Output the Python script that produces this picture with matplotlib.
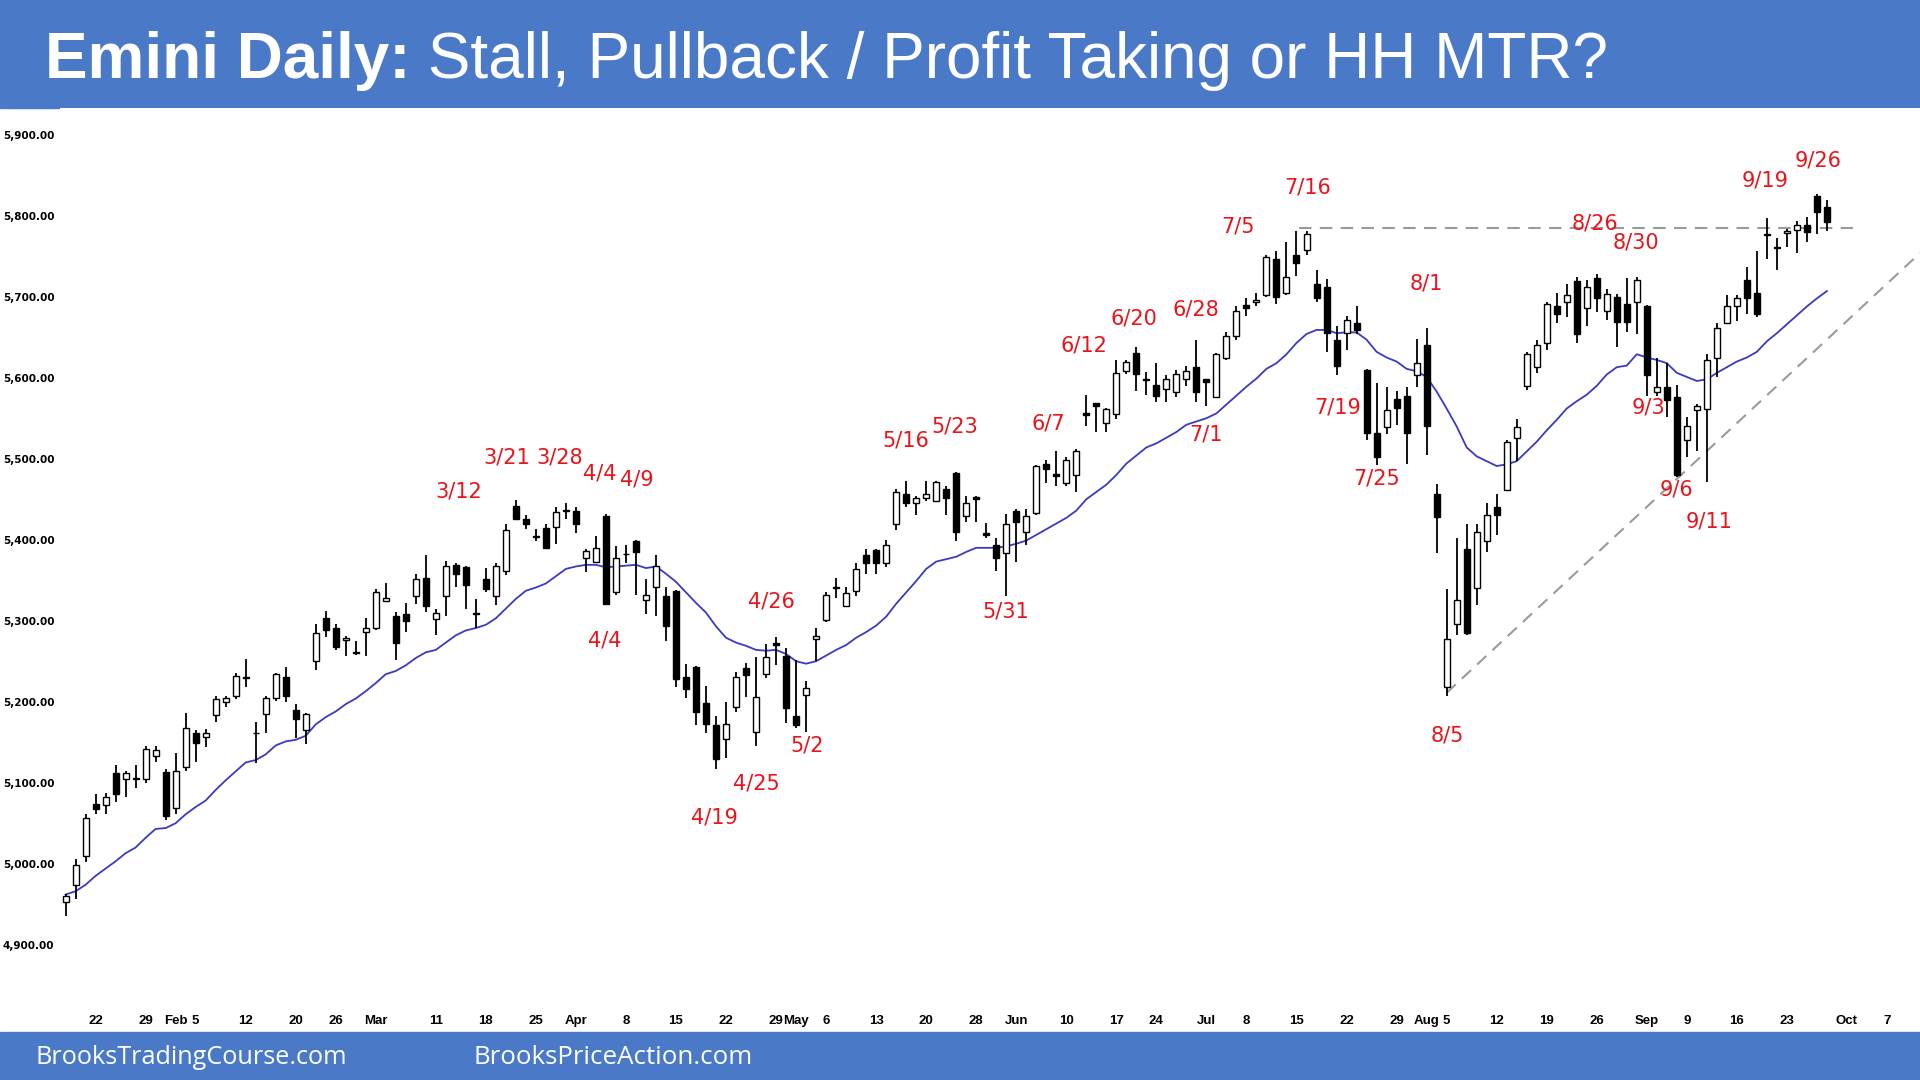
import matplotlib
matplotlib.use("Agg")
import matplotlib.pyplot as plt
import numpy as np
import pandas as pd

# trading days on the chart (exchange holidays dropped)
holidays = ["2024-02-19", "2024-03-29", "2024-05-27", "2024-06-19", "2024-07-04", "2024-09-02"]
days = pd.bdate_range("2024-01-17", "2024-10-11")
days = days[~days.isin(pd.to_datetime(holidays))]

opens = [4953, 4974, 5009,
         5074, 5073, 5112, 5105, 5106, 5105, 5133, 5113, 5069, 5120,
         5161, 5157, 5184, 5200, 5207, 5231, 5162, 5185, 5205, 5230,
         5190, 5165, 5250, 5303, 5291, 5276, 5262, 5286, 5291, 5324,
         5306, 5308, 5330, 5353, 5302, 5330, 5369, 5366, 5310, 5351,
         5330, 5362, 5442, 5426, 5405, 5414, 5416, 5437, 5436, 5378,
         5372, 5429, 5335, 5383, 5398, 5325, 5342, 5330, 5337, 5230,
         5243, 5198, 5171, 5154, 5193, 5242, 5163, 5234, 5272, 5257,
         5183, 5208, 5278, 5301, 5342, 5318, 5337, 5381, 5387, 5371,
         5419, 5457, 5445, 5452, 5448, 5463, 5482, 5429, 5453, 5408,
         5393, 5384, 5436, 5410, 5433, 5494, 5481, 5470, 5480, 5556,
         5569, 5544, 5555, 5608, 5631, 5599, 5591, 5586, 5583, 5599,
         5613, 5598, 5576, 5624, 5651, 5690, 5694, 5702, 5747, 5705,
         5751, 5758, 5716, 5712, 5647, 5655, 5668, 5609, 5532, 5539,
         5574, 5577, 5603, 5640, 5456, 5218, 5296, 5388, 5340, 5399,
         5441, 5462, 5525, 5590, 5613, 5643, 5688, 5693, 5719, 5686,
         5723, 5683, 5700, 5691, 5693, 5688, 5583, 5589, 5576, 5523,
         5560, 5562, 5624, 5668, 5688, 5721, 5705, 5778, 5761, 5779,
         5782, 5788, 5824, 5811]
highs = [4963, 5006, 5062,
         5086, 5087, 5122, 5115, 5122, 5145, 5145, 5117, 5137, 5186,
         5165, 5166, 5207, 5207, 5235, 5253, 5175, 5207, 5236, 5243,
         5197, 5186, 5296, 5312, 5296, 5281, 5275, 5303, 5339, 5346,
         5311, 5322, 5358, 5381, 5315, 5374, 5371, 5367, 5327, 5365,
         5371, 5420, 5449, 5431, 5413, 5420, 5441, 5445, 5441, 5388,
         5404, 5432, 5392, 5393, 5400, 5351, 5381, 5342, 5338, 5247,
         5244, 5219, 5183, 5200, 5237, 5248, 5255, 5271, 5280, 5266,
         5251, 5226, 5291, 5335, 5353, 5342, 5371, 5388, 5388, 5400,
         5463, 5473, 5454, 5473, 5473, 5466, 5484, 5454, 5454, 5421,
         5402, 5432, 5438, 5438, 5492, 5498, 5509, 5502, 5512, 5579,
         5569, 5563, 5622, 5622, 5638, 5607, 5618, 5603, 5610, 5615,
         5647, 5599, 5631, 5657, 5689, 5698, 5705, 5751, 5756, 5768,
         5781, 5781, 5733, 5722, 5664, 5676, 5689, 5611, 5594, 5589,
         5584, 5589, 5648, 5661, 5469, 5339, 5402, 5419, 5419, 5445,
         5457, 5523, 5549, 5632, 5647, 5693, 5705, 5716, 5724, 5721,
         5728, 5709, 5703, 5723, 5724, 5690, 5624, 5618, 5591, 5551,
         5567, 5629, 5668, 5702, 5702, 5737, 5756, 5797, 5773, 5784,
         5794, 5799, 5827, 5820]
lows = [4935, 4956, 5002,
        5062, 5062, 5076, 5083, 5094, 5100, 5126, 5054, 5062, 5115,
        5126, 5144, 5175, 5193, 5203, 5218, 5124, 5161, 5201, 5200,
        5155, 5148, 5239, 5280, 5264, 5256, 5258, 5257, 5289, 5323,
        5252, 5286, 5321, 5311, 5282, 5306, 5342, 5314, 5291, 5335,
        5320, 5357, 5425, 5413, 5399, 5388, 5395, 5426, 5408, 5360,
        5371, 5320, 5332, 5371, 5332, 5308, 5306, 5275, 5218, 5204,
        5171, 5161, 5117, 5130, 5187, 5206, 5145, 5229, 5245, 5174,
        5167, 5163, 5250, 5298, 5328, 5318, 5330, 5358, 5358, 5366,
        5412, 5441, 5431, 5448, 5448, 5431, 5398, 5422, 5422, 5402,
        5362, 5330, 5372, 5393, 5431, 5470, 5466, 5466, 5459, 5540,
        5533, 5533, 5549, 5604, 5584, 5579, 5570, 5570, 5576, 5590,
        5570, 5565, 5576, 5622, 5647, 5676, 5689, 5700, 5691, 5702,
        5726, 5751, 5693, 5632, 5603, 5634, 5654, 5523, 5492, 5530,
        5542, 5494, 5589, 5505, 5384, 5207, 5282, 5282, 5319, 5385,
        5406, 5460, 5497, 5585, 5606, 5634, 5667, 5675, 5643, 5664,
        5681, 5671, 5638, 5657, 5654, 5577, 5577, 5551, 5477, 5502,
        5509, 5471, 5601, 5666, 5670, 5679, 5675, 5747, 5733, 5761,
        5754, 5767, 5778, 5781]
closes = [4960, 4999, 5057,
          5067, 5083, 5086, 5112, 5104, 5142, 5140, 5059, 5115, 5167,
          5149, 5162, 5203, 5205, 5232, 5229, 5161, 5205, 5234, 5207,
          5179, 5185, 5285, 5289, 5268, 5279, 5260, 5291, 5335, 5328,
          5273, 5300, 5351, 5318, 5310, 5367, 5358, 5344, 5308, 5339,
          5367, 5412, 5426, 5419, 5403, 5390, 5434, 5436, 5419, 5386,
          5390, 5321, 5378, 5382, 5385, 5332, 5367, 5293, 5228, 5216,
          5187, 5173, 5129, 5172, 5231, 5233, 5206, 5255, 5270, 5192,
          5171, 5217, 5281, 5332, 5340, 5334, 5364, 5371, 5371, 5394,
          5459, 5445, 5452, 5457, 5471, 5452, 5410, 5445, 5450, 5406,
          5378, 5420, 5422, 5429, 5491, 5487, 5479, 5498, 5509, 5554,
          5565, 5562, 5606, 5620, 5604, 5597, 5577, 5598, 5604, 5608,
          5582, 5595, 5629, 5651, 5682, 5686, 5696, 5749, 5700, 5724,
          5742, 5777, 5698, 5655, 5615, 5671, 5659, 5532, 5502, 5560,
          5563, 5532, 5618, 5540, 5428, 5277, 5326, 5285, 5409, 5430,
          5430, 5521, 5539, 5629, 5640, 5691, 5679, 5702, 5654, 5712,
          5698, 5703, 5669, 5669, 5721, 5603, 5589, 5572, 5480, 5540,
          5565, 5622, 5662, 5689, 5698, 5698, 5679, 5776, 5760, 5781,
          5789, 5780, 5804, 5792]
# 20 bar moving average
ema20 = [4962, 4966, 4974,
         4985, 4994, 5003, 5013, 5020, 5032, 5043, 5044, 5050, 5061,
         5070, 5078, 5091, 5103, 5114, 5125, 5128, 5135, 5146, 5151,
         5153, 5158, 5172, 5181, 5188, 5197, 5204, 5213, 5223, 5234,
         5238, 5245, 5254, 5261, 5264, 5273, 5282, 5288, 5291, 5295,
         5303, 5315, 5327, 5337, 5341, 5346, 5355, 5364, 5367, 5369,
         5369, 5366, 5367, 5368, 5369, 5365, 5367, 5358, 5348, 5335,
         5322, 5310, 5293, 5279, 5273, 5269, 5264, 5263, 5264, 5259,
         5250, 5247, 5250, 5257, 5264, 5270, 5279, 5286, 5294, 5305,
         5321, 5335, 5349, 5364, 5373, 5376, 5379, 5385, 5390, 5390,
         5390, 5392, 5395, 5399, 5406, 5413, 5420, 5427, 5436, 5450,
         5459, 5468, 5480, 5494, 5504, 5514, 5519, 5526, 5533, 5542,
         5546, 5550, 5556, 5567, 5578, 5589, 5599, 5611, 5618, 5629,
         5643, 5654, 5659, 5659, 5655, 5656, 5656, 5647, 5632, 5625,
         5620, 5611, 5608, 5601, 5583, 5562, 5540, 5514, 5503, 5497,
         5491, 5493, 5497, 5509, 5521, 5535, 5548, 5562, 5571, 5579,
         5590, 5604, 5613, 5615, 5629, 5625, 5622, 5618, 5606, 5601,
         5596, 5598, 5606, 5613, 5620, 5625, 5632, 5645, 5655, 5666,
         5677, 5688, 5698, 5707]

tick_dates = ["2024-01-22", "2024-01-29", "2024-02-01", "2024-02-05", "2024-02-12",
              "2024-02-20", "2024-02-26", "2024-03-01", "2024-03-11", "2024-03-18",
              "2024-03-25", "2024-04-01", "2024-04-08", "2024-04-15", "2024-04-22",
              "2024-04-29", "2024-05-01", "2024-05-06", "2024-05-13", "2024-05-20",
              "2024-05-28", "2024-06-03", "2024-06-10", "2024-06-17", "2024-06-24",
              "2024-07-01", "2024-07-08", "2024-07-15", "2024-07-22", "2024-07-29",
              "2024-08-01", "2024-08-05", "2024-08-12", "2024-08-19", "2024-08-26",
              "2024-09-03", "2024-09-09", "2024-09-16", "2024-09-23", "2024-10-01",
              "2024-10-07"]
tick_text = ["22", "29", "Feb", "5", "12", "20", "26", "Mar", "11", "18", "25", "Apr",
             "8", "15", "22", "29", "May", "6", "13", "20", "28", "Jun", "10", "17",
             "24", "Jul", "8", "15", "22", "29", "Aug", "5", "12", "19", "26", "Sep",
             "9", "16", "23", "Oct", "7"]

# swing labels: text, bar position, price
label_text = ["3/12", "3/21", "3/28", "4/4", "4/9", "4/4", "4/26", "4/19", "4/25", "5/2",
              "5/16", "5/23", "5/31", "6/7", "6/12", "6/20", "6/28", "7/1", "7/5", "7/16",
              "7/19", "7/25", "8/1", "8/5", "8/26", "8/30", "9/3", "9/6", "9/11", "9/19",
              "9/26"]
label_x = [39.3, 44.1, 49.4, 53.4, 57.1, 53.9, 70.5, 64.8, 69.0, 74.1,
           84.0, 88.9, 93.9, 98.2, 101.8, 106.8, 112.9, 114.0, 117.2, 124.1,
           127.1, 131.0, 136.0, 138.1, 152.8, 156.9, 158.2, 161.0, 164.2, 169.8,
           175.1]
label_y = [5459, 5501, 5501, 5482, 5474, 5276, 5324, 5057, 5099, 5146,
           5522, 5540, 5312, 5543, 5640, 5673, 5684, 5530, 5787, 5835,
           5563, 5475, 5716, 5158, 5791, 5767, 5563, 5462, 5423, 5843,
           5868]

# analyst lines
level_price = 5785
level_from, level_to = 123.3, 178.8
trend_dates = ["2024-08-05", "2024-09-06"]
trend_prices = [5211, 5475]

band = "#4A7AC7"
red = "#E8141A"

fig = plt.figure(figsize=(19.2, 10.8), dpi=100)
fig.add_artist(plt.Rectangle((0, 1 - 108 / 1080), 1, 108 / 1080,
                             transform=fig.transFigure, color=band, zorder=0))
fig.add_artist(plt.Rectangle((0, 0), 1, 48 / 1080,
                             transform=fig.transFigure, color=band, zorder=0))

ax = fig.add_axes([60 / 1920, 1 - 1008 / 1080, 1 - 60 / 1920, 900 / 1080])
xlim = (-0.55, 185.3)
ax.set_xlim(*xlim)
ax.set_ylim(4821.9, 5933)
for s in ax.spines.values():
    s.set_visible(False)

x = np.arange(len(opens))
o, h, l, c = map(np.array, (opens, highs, lows, closes))
up = c >= o
ax.plot(x, ema20, color="#3A3AC2", lw=1.3, zorder=1.5)
ax.vlines(x, l, h, color="black", lw=1.3, zorder=2)
ax.bar(x, np.abs(c - o), bottom=np.minimum(o, c), width=0.6,
       color=np.where(up, "white", "black"), edgecolor="black", linewidth=1.0, zorder=3)

# dashed lines
ax.plot([level_from, level_to], [level_price, level_price], ls=(0, (6, 4)),
        color="#9A9A9A", lw=1.5, zorder=1.8)
tx = [days.get_loc(pd.Timestamp(d)) for d in trend_dates]
slope = (trend_prices[1] - trend_prices[0]) / (tx[1] - tx[0])
ax.plot([tx[0], xlim[1]], [trend_prices[0], trend_prices[0] + slope * (xlim[1] - tx[0])],
        ls=(0, (6, 4)), color="#9A9A9A", lw=1.5, zorder=1.8)

for s, lx, ly in zip(label_text, label_x, label_y):
    ax.text(lx, ly, s, color=red, fontsize=15, ha="center", va="center",
            family="DejaVu Sans", zorder=5)

yt = list(range(4900, 6000, 100))
ax.set_yticks(yt)
ax.set_yticklabels([f"{v:,.2f}" for v in yt], fontsize=7.5, fontweight="bold",
                   family="DejaVu Sans")
ax.set_xticks([days.get_loc(pd.Timestamp(d)) for d in tick_dates])
ax.set_xticklabels(tick_text, fontsize=9.5, fontweight="bold",
                   family=["Liberation Sans Narrow", "Liberation Sans"])
ax.tick_params(length=0)
ax.tick_params(axis="y", pad=4)
ax.tick_params(axis="x", pad=5)

# header and footer text
t1 = fig.text(45 / 1920, 1 - 78 / 1080, "Emini Daily:", fontsize=46, fontweight="bold",
              color="white", family="Liberation Sans", va="baseline")
fig.canvas.draw()
bb = t1.get_window_extent()
fig.text(bb.x1 / 1920, 1 - 78 / 1080, " Stall, Pullback / Profit Taking or HH MTR?",
         fontsize=46, color="white", family="Liberation Sans", va="baseline")
fig.text(36 / 1920, 23 / 1080, "BrooksTradingCourse.com", fontsize=18.2, color="white",
         family="Open Sans", va="center")
fig.text(474 / 1920, 23 / 1080, "BrooksPriceAction.com", fontsize=18.6, color="white",
         family="Open Sans", va="center")

fig.savefig("out.png", dpi=100)
